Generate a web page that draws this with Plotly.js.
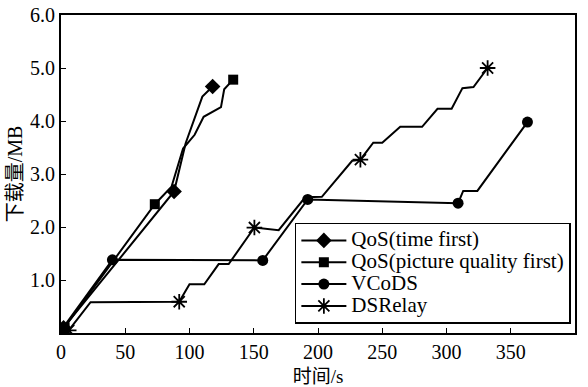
<!DOCTYPE html>
<html><head><meta charset="utf-8">
<script src="https://cdn.plot.ly/plotly-3.0.1.min.js"></script>
<style>body{margin:0;padding:0;background:#fff}#c{width:588px;height:387px}</style>
</head><body><div id="c"></div>
<script>
var names = ["QoS(time first)", "QoS(picture quality first)", "VCoDS", "DSRelay"];
var timeX = [2, 88, 97, 110, 118];
var timeY = [0.1, 2.67, 3.58, 4.46, 4.65];
var timeMarkIdx = [0, 1, 4];
var picX = [2, 73, 86, 95, 104, 111, 124.5, 127, 134];
var picY = [0.08, 2.43, 2.76, 3.48, 3.74, 4.08, 4.26, 4.6, 4.78];
var picMarkIdx = [0, 1, 8];
var vcX = [1, 40, 157, 192, 309, 313, 324, 363];
var vcY = [0.08, 1.38, 1.37, 2.52, 2.45, 2.68, 2.68, 3.98];
var vcMarkIdx = [0, 1, 2, 3, 4, 7];
var dsX = [6, 23, 92, 100, 111.5, 122.7, 130.5, 150.5, 169.4, 190, 203, 226.6, 233, 243, 250, 264, 281, 293, 304, 312.4, 321, 332];
var dsY = [0.05, 0.58, 0.59, 0.92, 0.92, 1.30, 1.30, 1.99, 1.94, 2.56, 2.57, 3.25, 3.27, 3.59, 3.59, 3.89, 3.89, 4.23, 4.23, 4.62, 4.64, 5.0];
var dsMarkIdx = [0, 2, 7, 12, 21];
var xTicks = [0, 50, 100, 150, 200, 250, 300, 350, 400];
var yTicks = [1, 2, 3, 4, 5, 6];
var yTickText = ["1.0", "2.0", "3.0", "4.0", "5.0", "6.0"];

function cols(n, idx){ var a=[]; for(var i=0;i<n;i++) a.push(idx.indexOf(i)>=0?"#000":"rgba(0,0,0,0)"); return a; }
function big(t){ return '<span style="font-size:21px">' + t + '</span>'; }
var serif = "Liberation Serif, Times New Roman, Noto Sans CJK SC, serif";
function mk(x, y, name, sym, size, idx, open){
  var c = cols(x.length, idx);
  return {x: x, y: y, name: big(name), mode: "lines+markers", line: {color: "#000", width: 2},
    marker: {symbol: sym, size: size, color: c, line: {color: open ? c : "rgba(0,0,0,0)", width: open ? 1.8 : 0}}};
}
var traces = [
 mk(timeX, timeY, names[0], "diamond", 12, timeMarkIdx, false),
 mk(picX, picY, names[1], "square", 10, picMarkIdx, false),
 mk(vcX, vcY, names[2], "circle", 11, vcMarkIdx, false),
 mk(dsX, dsY, names[3], "asterisk-open", 13, dsMarkIdx, true)
];
var layout = {
 width: 588, height: 387,
 margin: {l: 61, r: 13, t: 15, b: 54},
 paper_bgcolor: "#fff", plot_bgcolor: "#fff",
 font: {family: serif, color: "#000", size: 19},
 showlegend: true,
 legend: {x: 0.455, y: 0.346, xanchor: "left", yanchor: "top", bordercolor: "#000", borderwidth: 1.5,
   bgcolor: "#fff", font: {family: serif, size: 14.5, color: "#000"}, tracegroupgap: 0, itemwidth: 45,
   entrywidth: 262, entrywidthmode: "pixels"},
 xaxis: {range: [0, 400], tickvals: xTicks, ticktext: xTicks.map(String), ticks: "inside", ticklen: 5,
   tickcolor: "#000", showline: true, linecolor: "#000", linewidth: 2, mirror: true, showgrid: false, zeroline: false,
   tickfont: {family: serif, size: 20, color: "#000"},
   title: {text: "时间/s", font: {family: serif, size: 19, color: "#000"}, standoff: 9}},
 yaxis: {range: [0, 6], tickvals: yTicks, ticktext: yTickText, ticks: "inside", ticklen: 5,
   tickcolor: "#000", showline: true, linecolor: "#000", linewidth: 2, mirror: true, showgrid: false, zeroline: false,
   tickfont: {family: serif, size: 20, color: "#000"},
   title: {text: "下载量/MB", font: {family: serif, size: 20, color: "#000"}, standoff: 2}}
};
Plotly.newPlot("c", traces, layout, {displayModeBar: false, staticPlot: true});
</script></body></html>
